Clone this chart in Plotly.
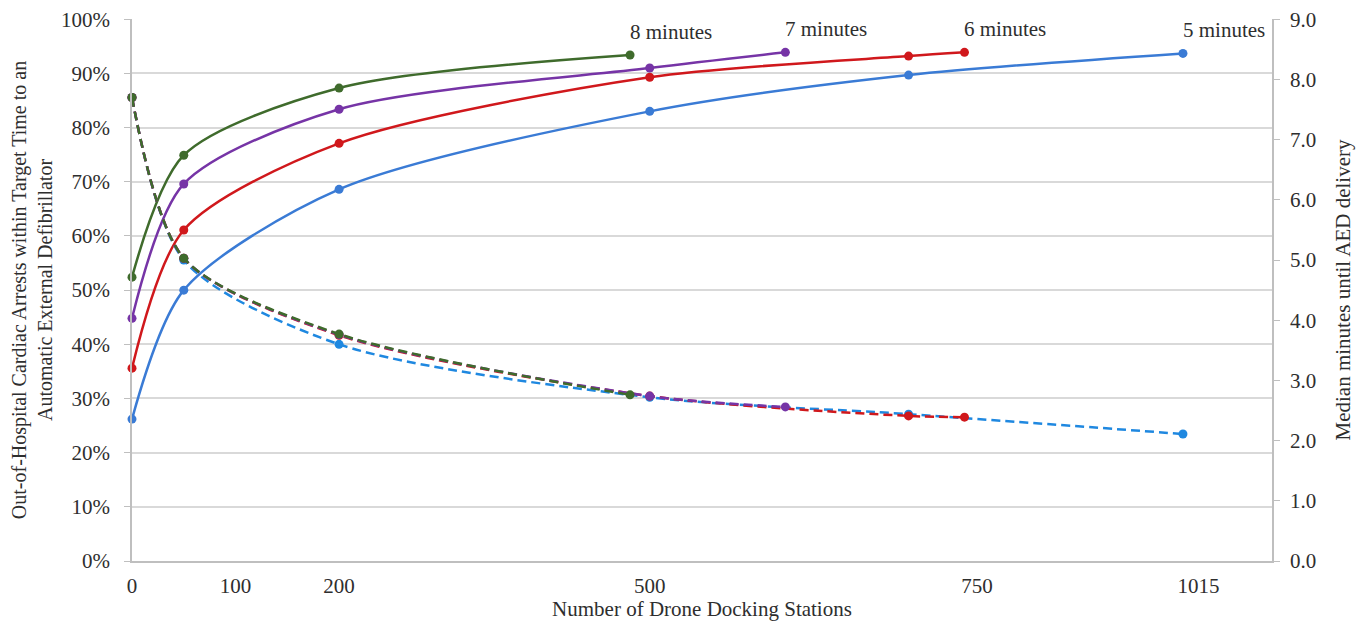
import plotly.graph_objects as go

# ---- data ----
x_5 = [0, 50, 200, 500, 750, 1015]
pct_5 = [26.2, 50.0, 68.6, 83.0, 89.7, 93.7]
min_5 = [7.70, 5.00, 3.60, 2.72, 2.44, 2.11]

x_6 = [0, 50, 200, 500, 750, 804]
pct_6 = [35.6, 61.1, 77.1, 89.3, 93.2, 93.9]
min_6 = [7.70, 5.03, 3.75, 2.74, 2.41, 2.39]

x_7 = [0, 50, 200, 500, 631]
pct_7 = [44.8, 69.6, 83.4, 91.0, 93.9]
min_7 = [7.70, 5.03, 3.76, 2.74, 2.56]

x_8 = [0, 50, 200, 481]
pct_8 = [52.4, 74.9, 87.3, 93.4]
min_8 = [7.70, 5.03, 3.77, 2.76]

series_labels = ["5 minutes", "6 minutes", "7 minutes", "8 minutes"]
x_tick_labels = ["0", "100", "200", "500", "750", "1015"]
x_tick_positions = [0, 100, 200, 500, 816, 1030]
pct_ticks = [0, 10, 20, 30, 40, 50, 60, 70, 80, 90, 100]
pct_tick_labels = ["0%", "10%", "20%", "30%", "40%", "50%", "60%", "70%", "80%", "90%", "100%"]
min_ticks = [0, 1, 2, 3, 4, 5, 6, 7, 8, 9]
min_tick_labels = ["0.0", "1.0", "2.0", "3.0", "4.0", "5.0", "6.0", "7.0", "8.0", "9.0"]

# ---- styles ----
FONT = "Liberation Serif"
TXT = "#2e2e2e"
colors = ["#3a7bd5", "#d0181c", "#7634a6", "#3f6b2c"]
dash_colors = ["#1f88e0", "#d0181c", "#7634a6", "#3f6b2c"]

xs = [x_5, x_6, x_7, x_8]
pcts = [pct_5, pct_6, pct_7, pct_8]
mins = [min_5, min_6, min_7, min_8]

fig = go.Figure()

# dashed median-minute lines (right axis)
for i in range(4):
    fig.add_trace(go.Scatter(
        x=xs[i], y=mins[i], yaxis="y2", mode="lines+markers",
        line=dict(color=dash_colors[i], width=2.5, dash="9px,5px", shape="spline", smoothing=0.8),
        marker=dict(color=dash_colors[i], size=9),
        cliponaxis=False, showlegend=False, name=series_labels[i] + " median",
    ))

# solid percentage lines (left axis)
for i in range(4):
    fig.add_trace(go.Scatter(
        x=xs[i], y=pcts[i], mode="lines+markers",
        line=dict(color=colors[i], width=2.5, shape="spline", smoothing=0.8),
        marker=dict(color=colors[i], size=9),
        cliponaxis=False, showlegend=False, name=series_labels[i],
    ))

# end labels
for i in range(4):
    fig.add_annotation(
        x=xs[i][-1], y=pcts[i][-1], text=series_labels[i], showarrow=False,
        xshift=41, yshift=23, font=dict(family=FONT, size=21, color=TXT),
    )

grid = "#d9d9d9"
axis_line = "#bfbfbf"

# page body has an 8px margin, so the figure is sized/positioned to compensate
fig.update_layout(
    width=1354, height=613,
    margin=dict(l=124, r=90, t=11, b=60),
    plot_bgcolor="white", paper_bgcolor="white",
    font=dict(family=FONT, size=21, color=TXT),
    xaxis=dict(
        range=[0, 1101], tickvals=x_tick_positions, ticktext=x_tick_labels,
        showgrid=False, zeroline=False, showline=True, linecolor=axis_line, linewidth=1.5,
        ticks="", ticklabelstandoff=5, automargin=False, ticklabeloverflow="allow",
        title=dict(text="Number of Drone Docking Stations", standoff=2,
                   font=dict(family=FONT, size=21, color=TXT)),
    ),
    yaxis=dict(
        range=[0, 100.05], tickvals=pct_ticks, ticktext=pct_tick_labels, automargin=False,
        showgrid=True, gridcolor=grid, gridwidth=1.5, zeroline=False,
        showline=True, linecolor=axis_line, linewidth=1.5,
        ticks="outside", ticklen=6, tickcolor=axis_line, ticklabelstandoff=10,
        ticklabeloverflow="allow",
        title=dict(text="Out-of-Hospital Cardiac Arrests within Target Time to an<br>Automatic External Defibrillator",
                   standoff=14, font=dict(family=FONT, size=20, color=TXT)),
    ),
    yaxis2=dict(
        range=[0, 9.0045], tickvals=min_ticks, ticktext=min_tick_labels,
        overlaying="y", side="right", automargin=False,
        showgrid=False, zeroline=False, showline=True, linecolor=axis_line, linewidth=1.5,
        ticks="outside", ticklen=6, tickcolor=axis_line, ticklabelstandoff=6,
        ticklabeloverflow="allow",
        title=dict(text="Median minutes until AED delivery", standoff=20,
                   font=dict(family=FONT, size=21, color=TXT)),
    ),
)

fig.write_html("out.html")
